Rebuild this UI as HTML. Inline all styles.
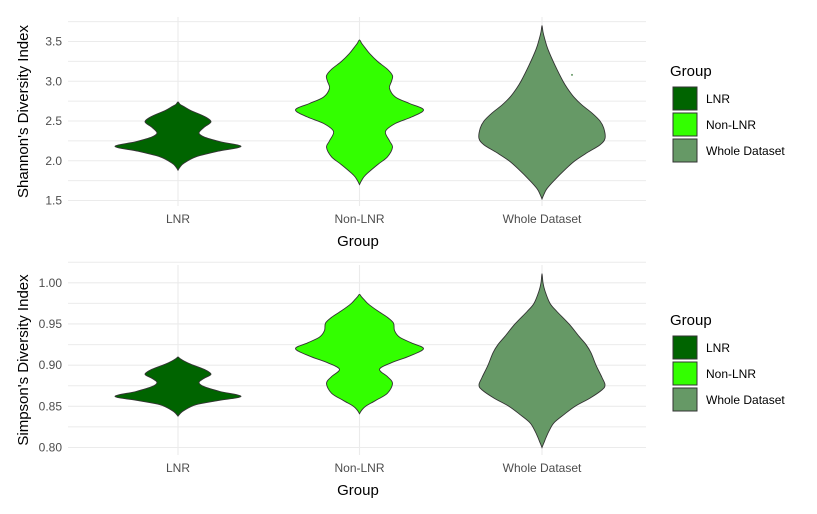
<!DOCTYPE html>
<html><head><meta charset="utf-8">
<style>
html,body{margin:0;padding:0;background:#fff;}
svg{display:block;font-family:"Liberation Sans",sans-serif;}
</style></head>
<body>
<svg id="chart" width="817" height="514" viewBox="0 0 817 514"></svg>
<script>
const categories = ["LNR", "Non-LNR", "Whole Dataset"];
const colors = ["#006400", "#33FF00", "#669966"];
// Shannon profiles: values and density (half-width)
const shanVals = [
  [1.88,1.92,1.97,2.05,2.12,2.18,2.24,2.30,2.35,2.42,2.49,2.56,2.63,2.68,2.71,2.74],
  [1.70,1.75,1.82,1.95,2.05,2.17,2.25,2.37,2.47,2.55,2.64,2.72,2.80,2.91,3.00,3.07,3.15,3.25,3.35,3.43,3.48,3.52],
  [1.52,1.58,1.65,1.75,1.90,2.00,2.10,2.20,2.28,2.40,2.50,2.60,2.70,2.80,2.90,3.00,3.20,3.40,3.52,3.62,3.70]
];
const shanDens = [
  [0,2,6,18,40,63,42,26,21,26,33,26,13,6,2,0],
  [0,2,6,18,28,33,30,26,36,52,64,50,36,30,32,33,28,18,10,5,2,0],
  [0,2,5,12,24,33,45,58,63,62,58,50,40,32,26,21,13,6,3,1,0]
];
const simpVals = [
  [0.838,0.841,0.845,0.852,0.857,0.862,0.868,0.874,0.879,0.884,0.889,0.895,0.901,0.905,0.908,0.910],
  [0.841,0.845,0.850,0.857,0.866,0.878,0.886,0.895,0.903,0.911,0.920,0.927,0.934,0.942,0.951,0.958,0.966,0.974,0.979,0.983,0.986],
  [0.800,0.806,0.812,0.820,0.830,0.840,0.850,0.860,0.870,0.876,0.885,0.900,0.915,0.925,0.935,0.950,0.965,0.975,0.990,1.000,1.011]
];
const simpDens = [
  [0,2,6,18,40,63,42,26,21,26,33,26,13,6,2,0],
  [0,2,6,16,28,33,28,20,32,50,64,52,40,35,34,28,18,9,5,2,0],
  [0,2,4,7,12,22,33,48,60,63,60,54,49,44,37,27,15,8,3,1,0]
];
const shanTicks = [1.5,2.0,2.5,3.0,3.5];
const shanTickLabels = ["1.5","2.0","2.5","3.0","3.5"];
const simpTicks = [0.80,0.85,0.90,0.95,1.00];
const simpTickLabels = ["0.80","0.85","0.90","0.95","1.00"];
const outlierVal = [3.08];

const NS="http://www.w3.org/2000/svg";
const svg=document.getElementById('chart');
function mk(tag,attrs,parent){const e=document.createElementNS(NS,tag);for(const k in attrs)e.setAttribute(k,attrs[k]);(parent||svg).appendChild(e);return e;}

const xLeft=68,xRight=646;
const catX=[178,359.5,542];
function xScale(i){return catX[i];}

function smoothPath(pts){
  let d="M"+pts[0][0].toFixed(2)+","+pts[0][1].toFixed(2);
  for(let i=0;i<pts.length-1;i++){
    const p0=pts[Math.max(0,i-1)],p1=pts[i],p2=pts[i+1],p3=pts[Math.min(pts.length-1,i+2)];
    const c1=[p1[0]+(p2[0]-p0[0])/6,p1[1]+(p2[1]-p0[1])/6];
    const c2=[p2[0]-(p3[0]-p1[0])/6,p2[1]-(p3[1]-p1[1])/6];
    d+=" C"+c1[0].toFixed(2)+","+c1[1].toFixed(2)+" "+c2[0].toFixed(2)+","+c2[1].toFixed(2)+" "+p2[0].toFixed(2)+","+p2[1].toFixed(2);
  }
  return d;
}

function panel(opt){
  const g=mk('g',{});
  
  
  const y=opt.yScale;
  for(let i=0;i<opt.ticks.length-1;i++){
    const v=(opt.ticks[i]+opt.ticks[i+1])/2;
    const l=mk('line',{x1:xLeft,x2:xRight,y1:y(v),y2:y(v),stroke:'#ebebeb','stroke-width':1},g);
    
    
  }
  {const v=opt.ticks[opt.ticks.length-1]+(opt.ticks[1]-opt.ticks[0])/2;
   const l=mk('line',{x1:xLeft,x2:xRight,y1:y(v),y2:y(v),stroke:'#ebebeb','stroke-width':1},g);
   
   }
  opt.ticks.forEach((v,i)=>{
    const l=mk('line',{x1:xLeft,x2:xRight,y1:y(v),y2:y(v),stroke:'#ebebeb','stroke-width':1.1},g);
    
    
    const t=mk('text',{x:62,y:y(v)+4,'text-anchor':'end','font-size':12,fill:'#4d4d4d'},g);
    t.textContent=opt.tickLabels[i];
    
    
  });
  categories.forEach((c,i)=>{
    const l=mk('line',{x1:xScale(i),x2:xScale(i),y1:opt.top,y2:opt.bottom,stroke:'#ebebeb','stroke-width':1.1},g);
    
    
    const t=mk('text',{x:xScale(i),y:opt.bottom+17,'text-anchor':'middle','font-size':12,fill:'#4d4d4d'},g);
    t.textContent=c;
    
    
  });
  categories.forEach((c,i)=>{
    const vals=opt.vals[i],dens=opt.dens[i];
    const right=vals.map((v,k)=>[xScale(i)+dens[k],y(v)]);
    const left=vals.map((v,k)=>[xScale(i)-dens[k],y(v)]).reverse();
    const pts=right.concat(left.slice(1));
    const p=mk('path',{d:smoothPath(pts)+" Z",fill:colors[i],stroke:'#333','stroke-width':0.9},g);
    
    
  });
  const xt=mk('text',{x:358,y:opt.bottom+40,'text-anchor':'middle','font-size':15,fill:'#000'},g);
  xt.textContent='Group';
  
  
  const cy=(opt.top+opt.bottom)/2;
  const yt=mk('text',{x:0,y:0,'text-anchor':'middle','font-size':15,fill:'#000',transform:'translate(28,'+cy+') rotate(-90)'},g);
  yt.textContent=opt.yTitle;
  
  
  const lg=mk('g',{},g);
  
  
  const lt=mk('text',{x:670,y:opt.legY,'font-size':15,fill:'#000'},lg);
  lt.textContent='Group';
  
  
  categories.forEach((c,i)=>{
    const ky=opt.legY+11+i*26;
    const r=mk('rect',{x:673,y:ky,width:24,height:23,fill:colors[i],stroke:'#333','stroke-width':1},lg);
    
    
    const t=mk('text',{x:706,y:ky+16,'font-size':12,fill:'#000'},lg);
    t.textContent=c;
    
    
  });
  return g;
}

const yShan=v=>200.5-(v-1.5)*79.5;
panel({name:'shannon-panel',yScale:yShan,ticks:shanTicks,tickLabels:shanTickLabels,vals:shanVals,dens:shanDens,top:17,bottom:206,yTitle:"Shannon's Diversity Index",legY:76});
const outlier=mk('circle',{cx:572,cy:yShan(outlierVal[0]),r:1,fill:'#669966'});



const ySimp=v=>447.5-(v-0.80)*823.5;
panel({name:'simpson-panel',yScale:ySimp,ticks:simpTicks,tickLabels:simpTickLabels,vals:simpVals,dens:simpDens,top:265,bottom:455,yTitle:"Simpson's Diversity Index",legY:325});
</script>
</body></html>
